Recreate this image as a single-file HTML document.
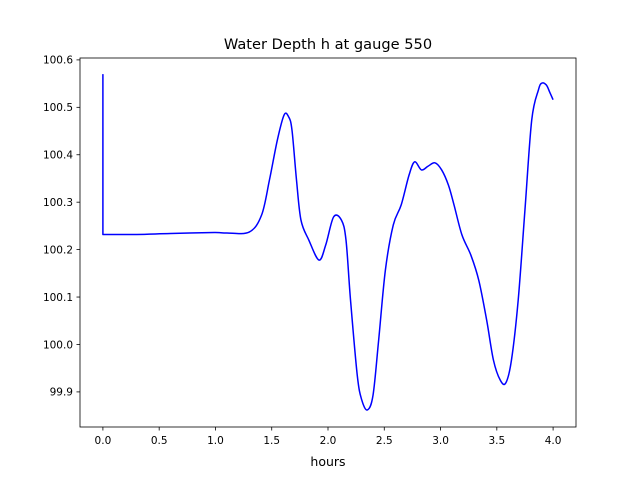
<!DOCTYPE html>
<html><head><meta charset="utf-8"><style>
body{margin:0;background:#fff}
svg text{font-family:"DejaVu Sans","Liberation Sans",sans-serif;fill:#000}
</style></head><body>
<svg id="chart" width="640" height="480" xmlns="http://www.w3.org/2000/svg">
<rect width="640" height="480" fill="#fff"/>
<text x="328" y="49" font-size="14.6" text-anchor="middle">Water Depth h at gauge 550</text>
<text x="328" y="466" font-size="12.5" text-anchor="middle">hours</text>
<g id="plot"></g>
</svg>
<script>
const times=[0,0.0001,0.3,0.6,0.99,1.1,1.30,1.41,1.48,1.55,1.61,1.65,1.68,1.72,1.76,1.83,1.92,1.98,2.05,2.12,2.16,2.20,2.26,2.30,2.35,2.40,2.45,2.51,2.58,2.65,2.72,2.77,2.83,2.89,2.95,3.01,3.07,3.12,3.19,3.27,3.34,3.41,3.47,3.53,3.58,3.63,3.69,3.75,3.81,3.87,3.90,3.94,3.97,4.0];
const depths=[100.570,100.232,100.232,100.234,100.236,100.235,100.237,100.273,100.347,100.431,100.484,100.48,100.452,100.347,100.262,100.22,100.178,100.21,100.269,100.262,100.22,100.094,99.935,99.883,99.862,99.893,100.009,100.157,100.252,100.294,100.357,100.385,100.368,100.376,100.383,100.368,100.336,100.294,100.231,100.188,100.135,100.051,99.967,99.925,99.919,99.967,100.094,100.284,100.473,100.537,100.551,100.547,100.532,100.516];
const xTicks=[0,0.5,1,1.5,2,2.5,3,3.5,4];
const xTickLabels=["0.0","0.5","1.0","1.5","2.0","2.5","3.0","3.5","4.0"];
const yTicks=[99.9,100.0,100.1,100.2,100.3,100.4,100.5,100.6];
const yTickLabels=["99.9","100.0","100.1","100.2","100.3","100.4","100.5","100.6"];

const L=80,R=576,T=58,B=427;
const xMin=-0.2035,xMax=4.2035,yMin=99.826,yMax=100.604;
const xs=v=>L+(v-xMin)/(xMax-xMin)*(R-L);
const ys=v=>B-(v-yMin)/(yMax-yMin)*(B-T);
const NS="http://www.w3.org/2000/svg";
const g=document.getElementById('plot');
function mk(t,a){const e=document.createElementNS(NS,t);for(const k in a)e.setAttribute(k,a[k]);g.appendChild(e);return e;}

const P=times.map((t,i)=>[xs(t),ys(depths[i])]);
let d='M'+P[0][0].toFixed(2)+','+P[0][1].toFixed(2)+' L'+P[1][0].toFixed(2)+','+P[1][1].toFixed(2);
for(let i=1;i<P.length-1;i++){
  const p0=P[Math.max(1,i-1)],p1=P[i],p2=P[i+1],p3=P[Math.min(P.length-1,i+2)];
  const c1=[p1[0]+(p2[0]-p0[0])/6,p1[1]+(p2[1]-p0[1])/6];
  const c2=[p2[0]-(p3[0]-p1[0])/6,p2[1]-(p3[1]-p1[1])/6];
  d+=' C'+c1.map(v=>v.toFixed(2)).join(',')+' '+c2.map(v=>v.toFixed(2)).join(',')+' '+p2.map(v=>v.toFixed(2)).join(',');
}
const line=mk('path',{d:d,fill:'none',stroke:'#0000ff','stroke-width':1.5,'stroke-linejoin':'round'});



const frame=mk('rect',{x:L,y:T,width:R-L,height:B-T,fill:'none',stroke:'#000','stroke-width':0.8});



xTicks.forEach((v,i)=>{
  const x=xs(v);
  const tk=mk('line',{x1:x,x2:x,y1:B,y2:B+3.5,stroke:'#000','stroke-width':0.8});
  
  
  const tx=mk('text',{x:x,y:B+17,'font-size':10.5,'text-anchor':'middle'});
  tx.textContent=xTickLabels[i];
  
  
});
yTicks.forEach((v,i)=>{
  const y=ys(v);
  const tk=mk('line',{x1:L-3.5,x2:L,y1:y,y2:y,stroke:'#000','stroke-width':0.8});
  
  
  const tx=mk('text',{x:L-7,y:y+3.8,'font-size':10.5,'text-anchor':'end'});
  tx.textContent=yTickLabels[i];
  
  
});
</script>
</body></html>
